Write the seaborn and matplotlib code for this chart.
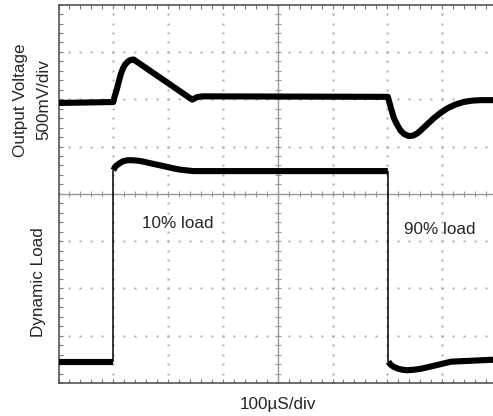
import numpy as np
import matplotlib
matplotlib.use("Agg")
import matplotlib.pyplot as plt
import seaborn as sns

# ---- data (in screen divisions) ----
ov_t = [0.00, 1.00, 1.02, 1.06, 1.10, 1.14, 1.18, 1.22, 1.28, 1.32, 1.37, 2.44, 2.52, 2.62, 6.01,
        6.06, 6.12, 6.18, 6.24, 6.30, 6.39, 6.47, 6.55, 6.61, 6.73, 6.85, 6.97, 7.10, 7.25, 7.39, 7.55, 7.71, 8.00]
ov_v = [5.92, 5.94, 6.04, 6.19, 6.37, 6.54, 6.66, 6.74, 6.81, 6.83, 6.84, 5.99, 6.04, 6.06, 6.05,
        5.84, 5.60, 5.46, 5.34, 5.27, 5.22, 5.23, 5.28, 5.34, 5.47, 5.60, 5.71, 5.81, 5.89, 5.94, 5.97, 5.98, 5.98]

load_lo_t = [0.00, 1.00]
load_lo_v = [0.45, 0.45]
load_mid_t = [1.00, 1.03, 1.06, 1.12, 1.18, 1.26, 1.34, 1.45, 1.55, 1.70, 1.86, 2.05, 2.22, 2.46, 6.01]
load_mid_v = [4.50, 4.56, 4.60, 4.65, 4.69, 4.71, 4.71, 4.70, 4.68, 4.64, 4.60, 4.55, 4.51, 4.48, 4.48]
load_hi_t = [6.02, 6.06, 6.12, 6.20, 6.28, 6.37, 6.48, 6.61, 6.76, 6.91, 7.05, 7.16, 7.33, 7.52, 7.89, 8.00]
load_hi_v = [0.45, 0.39, 0.34, 0.30, 0.28, 0.27, 0.28, 0.30, 0.34, 0.38, 0.42, 0.45, 0.46, 0.47, 0.49, 0.49]
edge_t = [1.00, 6.01]
edge_lo = [0.45, 0.45]
edge_hi = [4.50, 4.48]

sns.set_style("white")
plt.rcParams['font.family'] = ['Liberation Sans', 'DejaVu Sans']

W, H = 493, 416
fig = plt.figure(figsize=(W / 100, H / 100), dpi=100)
left_px, bottom_px, div_w, div_h = 58.5, 383.0, 54.8, 47.3
ax = fig.add_axes([left_px / W, (H - bottom_px) / H, 8 * div_w / W, 8 * div_h / H])
ax.set_xlim(0, 8)
ax.set_ylim(0, 8)

# dotted graticule
grid_col = '#a8a8a8'
fine = np.arange(0, 8.001, 0.2)
for k in [1, 2, 3, 5, 6, 7]:
    ax.plot(np.full_like(fine, k), fine, ls='none', marker='s', ms=1.4, mew=0, color=grid_col, zorder=1)
    ax.plot(fine, np.full_like(fine, k), ls='none', marker='s', ms=1.4, mew=0, color=grid_col, zorder=1)
# centre cross with ticks
ax.axvline(4, color='#999999', lw=1, zorder=1)
ax.axhline(4, color='#999999', lw=1, zorder=1)
ax.plot(fine, np.full_like(fine, 4), ls='none', marker='|', ms=5, mew=0.8, color='#999999', zorder=1)
ax.plot(np.full_like(fine, 4), fine, ls='none', marker='_', ms=5, mew=0.8, color='#999999', zorder=1)

# traces
lw = 4.4
style = dict(estimator=None, sort=False, color='black', lw=lw, ax=ax, zorder=3,
             solid_capstyle='butt', solid_joinstyle='round')
sns.lineplot(x=ov_t, y=ov_v, **style)
sns.lineplot(x=load_lo_t, y=load_lo_v, **style)
sns.lineplot(x=load_mid_t, y=load_mid_v, **style)
sns.lineplot(x=load_hi_t, y=load_hi_v, **style)
ax.vlines(edge_t, edge_lo, edge_hi, color='black', lw=1.1, zorder=3)

# frame
ax.set_xticks(fine)
ax.set_yticks(fine)
ax.tick_params(direction='in', length=3, width=0.8, color='#777777',
               top=True, bottom=True, left=True, right=False,
               labelbottom=False, labelleft=False)
for s in ['top', 'bottom', 'left']:
    ax.spines[s].set_color('#555555')
    ax.spines[s].set_linewidth(1.2)
ax.spines['right'].set_visible(False)
ax.set_xlabel('')
ax.set_ylabel('')

fs = 12.3
def ftext(x, y, s, **kw):
    fig.text(x / W, 1 - y / H, s, fontsize=fs, ha='center', va='center', **kw)

ftext(21, 100, 'Output Voltage', rotation=90)
ftext(44, 100, '500mV/div', rotation=90)
ftext(38.5, 282, 'Dynamic Load', rotation=90)
ftext(178, 224, '10% load')
ftext(439.5, 229.5, '90% load')
ftext(278, 405, '100µS/div')

fig.savefig('out.png', dpi=100)
